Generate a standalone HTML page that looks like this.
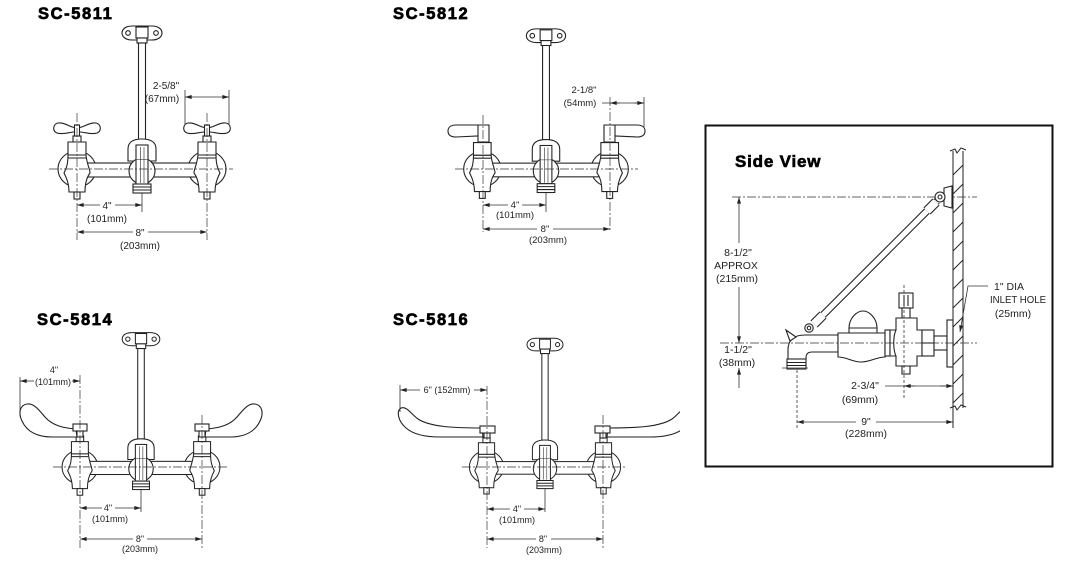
<!DOCTYPE html>
<html><head><meta charset="utf-8"><style>
html,body{margin:0;padding:0;background:#fff;}
svg{display:block;}
.t{font-family:"Liberation Sans",sans-serif;font-weight:bold;font-size:16.5px;letter-spacing:1.6px;fill:#000;stroke:#000;stroke-width:0.7px;}
.sv{font-family:"Liberation Sans",sans-serif;font-weight:bold;font-size:17px;letter-spacing:0.8px;fill:#000;stroke:#000;stroke-width:0.6px;}
.l{font-family:"Liberation Sans",sans-serif;font-size:10px;fill:#222;}
.m{font-size:9.5px;}
.s{font-size:9px;}
.b{font-size:10.5px;}
.cl{fill:none;stroke:#333;stroke-width:0.7;stroke-dasharray:9 2 2 2;}
.dm{fill:none;stroke:#333;stroke-width:0.8;}
.dl{fill:none;stroke:#333;stroke-width:0.8;stroke-dasharray:3 2;}
</style></head><body>
<svg width="1080" height="570" viewBox="0 0 1080 570" xmlns="http://www.w3.org/2000/svg">
<defs>
<marker id="a" viewBox="0 0 10 6" refX="10" refY="3" markerWidth="7" markerHeight="4" orient="auto-start-reverse" markerUnits="userSpaceOnUse">
<path d="M0,0 L10,3 L0,6 Z" fill="#222"/></marker>
<g id="vl">
 <rect x="-69" y="-33" width="8" height="6"/>
 <path d="M-74,-27 L-56,-27 L-56,-14 L-74,-14 Z"/>
 <path d="M-74,-14 L-56,-14 C-55,-4 -52,0 -52,4 C-55,8 -57,14 -57,23 L-73,23 C-73,14 -76,8 -78,4 C-76,0 -74,-4 -74,-14 Z"/>
 <line x1="-74" y1="-11" x2="-56" y2="-11"/>
 <rect x="-68" y="23" width="6" height="7"/>
</g>
<g id="fb" fill="#fff" stroke="#222" stroke-width="1.1">
 <path d="M-10,-143 L10,-143 C16,-143 20,-140 20,-136 C20,-132 16,-129 10,-129 L-10,-129 C-16,-129 -20,-132 -20,-136 C-20,-140 -16,-143 -10,-143Z"/>
 <circle cx="-14" cy="-136" r="2.3"/><circle cx="14" cy="-136" r="2.3"/>
 <rect x="-6" y="-142" width="12" height="11"/>
 <rect x="-5" y="-131" width="10" height="5"/>
 <rect x="-3.5" y="-126" width="7" height="118"/>
 <ellipse cx="-65" cy="0" rx="19" ry="18"/>
 <ellipse cx="65" cy="0" rx="19" ry="18"/>
 <rect x="-60" y="-6" width="120" height="14"/>
 <use href="#vl"/>
 <use href="#vl" transform="scale(-1,1)"/>
 <path d="M-14,-8 L-14,-20 Q-14,-30 0,-30 Q14,-30 14,-20 L14,-8 Z"/>
 <circle cx="0" cy="2" r="13"/>
 <rect x="-6" y="-24" width="12" height="15"/>
 <path d="M-6,-9 L-6,15 L6,15 L6,-9"/>
 <rect x="-9" y="15" width="18" height="9"/>
 <line x1="-9" y1="18" x2="9" y2="18"/><line x1="-9" y1="21" x2="9" y2="21"/>
 <line x1="-1.5" y1="-22" x2="-1.5" y2="14" stroke-width="0.6"/><line x1="2" y1="-22" x2="2" y2="14" stroke-width="0.6"/>
</g>
<g id="th" fill="#fff" stroke="#222" stroke-width="1.1">
 <path d="M0,-41 C-6,-41 -12,-47 -19,-46 C-24,-45 -25,-38 -20,-36 C-14,-34 -8,-37 -3,-37 L3,-37 C8,-37 14,-34 20,-36 C25,-38 24,-45 19,-46 C12,-47 6,-41 0,-41 Z"/>
 <rect x="-2.5" y="-44" width="5" height="11"/>
</g>
<clipPath id="c4"><rect x="380" y="380" width="300" height="80"/></clipPath>
</defs>

<!-- titles -->
<text class="t" x="38" y="19">SC-5811</text>
<text class="t" x="393" y="19">SC-5812</text>
<text class="t" x="37" y="325">SC-5814</text>
<text class="t" x="393" y="325">SC-5816</text>

<!-- ===== SC-5811 ===== -->
<use href="#fb" transform="translate(142,169)"/>
<use href="#th" transform="translate(77,169)"/>
<use href="#th" transform="translate(207,169)"/>
<line class="cl" x1="49" y1="169" x2="233" y2="169"/>
<line class="cl" x1="77" y1="113" x2="77" y2="240"/>
<line class="cl" x1="207" y1="113" x2="207" y2="240"/>
<line class="dm" x1="142" y1="193" x2="142" y2="212"/>
<line class="dm" x1="77" y1="205" x2="100" y2="205" marker-start="url(#a)"/>
<line class="dm" x1="115" y1="205" x2="142" y2="205" marker-end="url(#a)"/>
<text class="l" x="107" y="209" text-anchor="middle">4"</text>
<text class="l" x="107" y="222" text-anchor="middle">(101mm)</text>
<line class="dm" x1="77" y1="232" x2="133" y2="232" marker-start="url(#a)"/>
<line class="dm" x1="148" y1="232" x2="207" y2="232" marker-end="url(#a)"/>
<text class="l" x="140" y="236" text-anchor="middle">8"</text>
<text class="l" x="140" y="249" text-anchor="middle">(203mm)</text>
<line class="dm" x1="185" y1="90" x2="185" y2="125"/>
<line class="dm" x1="229" y1="90" x2="229" y2="125"/>
<line class="dm" x1="185" y1="97" x2="229" y2="97" marker-start="url(#a)" marker-end="url(#a)"/>
<text class="l" x="166" y="89" text-anchor="middle">2-5/8"</text>
<text class="l" x="162" y="102" text-anchor="middle">(67mm)</text>

<!-- ===== SC-5812 ===== -->
<use href="#fb" transform="translate(546,169) scale(0.98)"/>
<g fill="#fff" stroke="#222" stroke-width="1.1">
 <path d="M489,125 L456,125 C450,125 448,128 448,131 C448,135 451,137 456,137 L478,136 L478,142 L489,142 Z"/>
 <line x1="478" y1="125" x2="478" y2="136"/>
 <path transform="matrix(-1,0,0,1,1093,0)" d="M489,125 L456,125 C450,125 448,128 448,131 C448,135 451,137 456,137 L478,136 L478,142 L489,142 Z"/>
 <line x1="615" y1="125" x2="615" y2="136"/>
</g>
<line class="cl" x1="455" y1="169" x2="638" y2="169"/>
<line class="cl" x1="483" y1="115" x2="483" y2="232"/>
<line class="cl" x1="610" y1="97" x2="610" y2="232"/>
<line class="dm" x1="546" y1="193" x2="546" y2="212"/>
<line class="dm" x1="483" y1="205" x2="508" y2="205" marker-start="url(#a)"/>
<line class="dm" x1="522" y1="205" x2="546" y2="205" marker-end="url(#a)"/>
<text class="l m" x="515" y="208" text-anchor="middle">4"</text>
<text class="l m" x="515" y="218" text-anchor="middle">(101mm)</text>
<line class="dm" x1="483" y1="229" x2="537" y2="229" marker-start="url(#a)"/>
<line class="dm" x1="553" y1="229" x2="610" y2="229" marker-end="url(#a)"/>
<text class="l m" x="545" y="232" text-anchor="middle">8"</text>
<text class="l m" x="548" y="243" text-anchor="middle">(203mm)</text>
<line class="dm" x1="644" y1="97" x2="644" y2="127"/>
<line class="dm" x1="602" y1="103" x2="644" y2="103"/>
<line class="dm" x1="620" y1="103" x2="610" y2="103" marker-end="url(#a)"/>
<line class="dm" x1="634" y1="103" x2="644" y2="103" marker-end="url(#a)"/>
<text class="l m" x="584" y="93" text-anchor="middle">2-1/8"</text>
<text class="l m" x="580" y="106" text-anchor="middle">(54mm)</text>

<!-- ===== SC-5814 ===== -->
<use href="#fb" transform="translate(141,467) scale(0.94)"/>
<g fill="#fff" stroke="#222" stroke-width="1.1">
 <path d="M76,429 C62,428 52,425 45,417 C39,410 34,403 27,404 C20,405 18,413 22,421 C27,432 38,437 52,437 L77,437 Z"/>
 <rect x="77" y="430" width="6" height="7"/>
 <rect x="73" y="424" width="14" height="7"/>
 <path transform="matrix(-1,0,0,1,282,0)" d="M76,429 C62,428 52,425 45,417 C39,410 34,403 27,404 C20,405 18,413 22,421 C27,432 38,437 52,437 L77,437 Z"/>
 <rect x="199" y="430" width="6" height="7"/>
 <rect x="195" y="424" width="14" height="7"/>
</g>
<line class="cl" x1="53" y1="467" x2="227" y2="467"/>
<line class="cl" x1="80" y1="375" x2="80" y2="548"/>
<line class="cl" x1="202" y1="415" x2="202" y2="548"/>
<line class="dm" x1="141" y1="490" x2="141" y2="512"/>
<line class="dm" x1="20" y1="377" x2="20" y2="412"/>
<line class="dm" x1="20" y1="381" x2="34" y2="381" marker-start="url(#a)"/>
<line class="dm" x1="72" y1="381" x2="80" y2="381" marker-end="url(#a)"/>
<text class="l s" x="54" y="373" text-anchor="middle">4"</text>
<text class="l s" x="53" y="385" text-anchor="middle">(101mm)</text>
<line class="dm" x1="80" y1="508" x2="102" y2="508" marker-start="url(#a)"/>
<line class="dm" x1="115" y1="508" x2="141" y2="508" marker-end="url(#a)"/>
<text class="l s" x="108" y="511" text-anchor="middle">4"</text>
<text class="l s" x="110" y="522" text-anchor="middle">(101mm)</text>
<line class="dm" x1="80" y1="539" x2="133" y2="539" marker-start="url(#a)"/>
<line class="dm" x1="147" y1="539" x2="202" y2="539" marker-end="url(#a)"/>
<text class="l s" x="140" y="542" text-anchor="middle">8"</text>
<text class="l s" x="140" y="552" text-anchor="middle">(203mm)</text>

<!-- ===== SC-5816 ===== -->
<use href="#fb" transform="translate(545,467) scale(0.9)"/>
<g fill="#fff" stroke="#222" stroke-width="1.1">
 <path d="M482,428 C455,428 430,427 418,419 C411,414 407,406 401,408 C396,411 398,421 406,428 C414,435 426,437 440,437 L483,437 Z"/>
 <rect x="484" y="432" width="6" height="6"/>
 <rect x="480" y="426" width="15" height="7"/>
 <g clip-path="url(#c4)">
 <path transform="matrix(-1,0,0,1,1090,0)" d="M482,428 C455,428 430,427 418,419 C411,414 407,406 401,408 C396,411 398,421 406,428 C414,435 426,437 440,437 L483,437 Z"/>
 </g>
 <rect x="600" y="432" width="6" height="6"/>
 <rect x="595" y="426" width="15" height="7"/>
</g>
<line class="cl" x1="462" y1="467" x2="626" y2="467"/>
<line class="cl" x1="487" y1="386" x2="487" y2="548"/>
<line class="cl" x1="603" y1="415" x2="603" y2="548"/>
<line class="dm" x1="545" y1="489" x2="545" y2="512"/>
<line class="dm" x1="400" y1="385" x2="400" y2="412"/>
<line class="dm" x1="400" y1="390" x2="420" y2="390" marker-start="url(#a)"/>
<line class="dm" x1="474" y1="390" x2="487" y2="390" marker-end="url(#a)"/>
<text class="l s" x="447" y="393" text-anchor="middle">6" (152mm)</text>
<line class="dm" x1="487" y1="509" x2="510" y2="509" marker-start="url(#a)"/>
<line class="dm" x1="524" y1="509" x2="545" y2="509" marker-end="url(#a)"/>
<text class="l s" x="517" y="512" text-anchor="middle">4"</text>
<text class="l s" x="517" y="523" text-anchor="middle">(101mm)</text>
<line class="dm" x1="487" y1="539" x2="536" y2="539" marker-start="url(#a)"/>
<line class="dm" x1="551" y1="539" x2="603" y2="539" marker-end="url(#a)"/>
<text class="l s" x="543" y="542" text-anchor="middle">8"</text>
<text class="l s" x="544" y="553" text-anchor="middle">(203mm)</text>

<!-- ===== SIDE VIEW ===== -->
<rect x="705.5" y="125.5" width="347" height="341" fill="none" stroke="#111" stroke-width="2"/>
<text class="sv" x="735" y="167">Side View</text>

<!-- wall -->
<g stroke="#222" stroke-width="1" fill="none">
 <line x1="953" y1="151" x2="953" y2="428"/>
 <line x1="963" y1="151" x2="963" y2="408"/>
 <path d="M950,151 L955,149 L957,153 L961,148 L966,150"/>
 <path d="M950,408 L955,406 L957,410 L961,405 L966,407"/>
 <line x1="953" y1="175" x2="963" y2="165"/>
 <line x1="953" y1="194" x2="963" y2="184"/>
 <line x1="953" y1="213" x2="963" y2="203"/>
 <line x1="953" y1="232" x2="963" y2="222"/>
 <line x1="953" y1="251" x2="963" y2="241"/>
 <line x1="953" y1="270" x2="963" y2="260"/>
 <line x1="953" y1="289" x2="963" y2="279"/>
 <line x1="953" y1="308" x2="963" y2="298"/>
 <line x1="953" y1="327" x2="963" y2="317"/>
 <line x1="953" y1="346" x2="963" y2="336"/>
 <line x1="953" y1="365" x2="963" y2="355"/>
 <line x1="953" y1="384" x2="963" y2="374"/>
 <line x1="953" y1="403" x2="963" y2="393"/>
</g>

<line class="cl" x1="732" y1="197" x2="977" y2="197"/>

<!-- rod -->
<line x1="815" y1="323" x2="937" y2="201" stroke="#222" stroke-width="7.5"/>
<line x1="815" y1="323" x2="937" y2="201" stroke="#fff" stroke-width="5.3"/>
<line x1="814" y1="324" x2="823" y2="315" stroke="#222" stroke-width="10"/>
<line x1="814" y1="324" x2="823" y2="315" stroke="#fff" stroke-width="7.8"/>
<line x1="927" y1="211" x2="936" y2="202" stroke="#222" stroke-width="10"/>
<line x1="927" y1="211" x2="936" y2="202" stroke="#fff" stroke-width="7.8"/>
<g fill="#fff" stroke="#222" stroke-width="1.1">
 <path d="M944,188 L952,186 L952,208 L944,206 Z"/>
 <circle cx="940" cy="197" r="5"/><circle cx="940" cy="197" r="2"/>
 <!-- spout -->
 <path d="M805,335 L838,335 L838,352 L812,352 Q806,352 806,358 L806,359 L788,359 L788,350 Q788,335 805,335 Z"/>
 <path d="M790,341 L786,330 L796,337 Z"/>
 <circle cx="809" cy="328" r="4.2"/><circle cx="809" cy="328" r="1.8"/>
 <rect x="787" y="359" width="19" height="10"/>
 <line x1="787" y1="362.5" x2="806" y2="362.5"/><line x1="787" y1="365.5" x2="806" y2="365.5"/>
 <!-- body -->
 <path d="M849,333 L849,328 C849,318 857,311 863,311 C869,311 877,318 877,328 L877,333"/>
 <line x1="849" y1="328" x2="877" y2="328"/>
 <path d="M838,333 L885,333 L885,357 C876,357 871,362 861,362 C852,362 847,357 838,357 Z"/>
 <rect x="885" y="330" width="5" height="26"/>
 <rect x="899" y="293" width="14" height="15"/>
 <line x1="904" y1="295" x2="904" y2="306"/><line x1="908" y1="295" x2="908" y2="306"/>
 <rect x="902" y="308" width="8" height="10"/>
 <rect x="902" y="366" width="8" height="8"/>
 <path d="M890,330 L896,330 L896,318 L917,318 L917,330 L922,330 L922,356 L917,356 L917,366 L896,366 L896,356 L890,356 Z"/>
 <path d="M896,330 C893,336 893,350 896,356"/>
 <rect x="922" y="330" width="12" height="26"/>
 <line x1="922" y1="343" x2="934" y2="343"/>
 <rect x="934" y="336" width="13" height="14"/>
 <rect x="947" y="320" width="6" height="47"/>
</g>
<line class="cl" x1="720" y1="343" x2="977" y2="343"/>
<line class="dl" x1="904" y1="285" x2="904" y2="400"/>

<!-- left dims -->
<line class="dm" x1="739" y1="243" x2="739" y2="197" marker-end="url(#a)"/>
<line class="dm" x1="739" y1="287" x2="739" y2="343" marker-end="url(#a)"/>
<line class="dm" x1="739" y1="388" x2="739" y2="368" marker-end="url(#a)"/>
<line class="dm" x1="782" y1="368" x2="808" y2="368"/>
<text class="l b" x="738" y="256" text-anchor="middle">8-1/2"</text>
<text class="l b" x="736" y="269" text-anchor="middle">APPROX</text>
<text class="l b" x="737" y="282" text-anchor="middle">(215mm)</text>
<text class="l b" x="738" y="353" text-anchor="middle">1-1/2"</text>
<text class="l b" x="737" y="366" text-anchor="middle">(38mm)</text>

<!-- bottom dims -->
<line class="dl" x1="797" y1="370" x2="797" y2="428"/>
<line class="dm" x1="797" y1="422" x2="856" y2="422" marker-start="url(#a)"/>
<line class="dm" x1="876" y1="422" x2="953" y2="422" marker-end="url(#a)"/>
<text class="l b" x="866" y="425" text-anchor="middle">9"</text>
<text class="l b" x="866" y="437" text-anchor="middle">(228mm)</text>
<line class="dm" x1="885" y1="386" x2="953" y2="386"/>
<line class="dm" x1="915" y1="386" x2="904" y2="386" marker-end="url(#a)"/>
<line class="dm" x1="940" y1="386" x2="953" y2="386" marker-end="url(#a)"/>
<text class="l b" x="865" y="389" text-anchor="middle">2-3/4"</text>
<text class="l b" x="860" y="403" text-anchor="middle">(69mm)</text>

<!-- inlet hole -->
<path class="dm" d="M988,286 L968,286 L960,332" marker-end="url(#a)"/>
<text class="l b" x="1009" y="290" text-anchor="middle">1" DIA</text>
<text class="l b" x="1018" y="303" text-anchor="middle" textLength="56" lengthAdjust="spacingAndGlyphs">INLET HOLE</text>
<text class="l b" x="1013" y="317" text-anchor="middle">(25mm)</text>
</svg>
</body></html>
